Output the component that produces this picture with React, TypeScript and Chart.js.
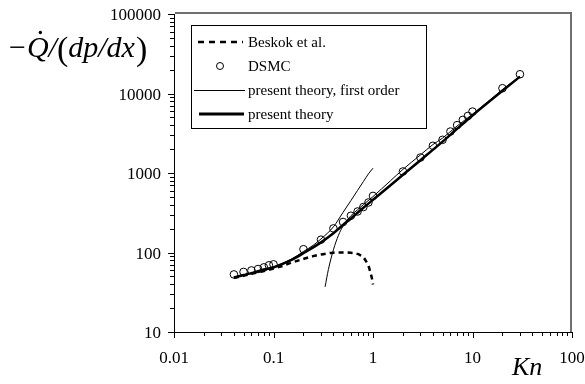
import React, { useEffect, useRef } from "react";
import { Chart, registerables } from "chart.js";

Chart.register(...registerables);

// ---- data ----
const dsmcKn = [0.04, 0.05, 0.06, 0.07, 0.08, 0.09, 0.1, 0.2, 0.3, 0.4, 0.5, 0.6, 0.7, 0.8, 0.9, 1, 2, 3, 4, 5, 6, 7, 8, 9, 10, 20, 30];
const dsmcQ = [53, 57, 59.5, 62, 65, 69, 71, 110, 145, 201, 242, 290, 328, 373, 426, 515, 1045, 1566, 2200, 2614, 3324, 4000, 4660, 5230, 5925, 11650, 17470];

const presentKn = [0.04, 0.05, 0.06, 0.07, 0.08, 0.1, 0.15, 0.2, 0.3, 0.4, 0.5, 0.6, 0.8, 1, 1.5, 2, 3, 5, 7, 10, 20, 30];
const presentQ = [48.5, 52, 55, 58, 61, 65, 80, 98, 134, 175, 222, 268, 365, 460, 700, 950, 1450, 2480, 3600, 5300, 10800, 16300];

const firstLowKn = [0.04, 0.06, 0.08, 0.1, 0.15, 0.2, 0.25, 0.3, 0.4, 0.5, 0.6, 0.7, 0.8, 0.9, 1];
const firstLowQ = [48.5, 55, 61, 66, 82, 103, 123, 148, 210, 320, 450, 605, 780, 975, 1150];

const firstHighKn = [0.33, 0.356, 0.4, 0.45, 0.5, 0.6, 0.7, 0.8, 1, 1.5, 2, 3, 4, 5, 7, 10, 20, 30];
const firstHighQ = [37, 61, 108, 165, 215, 290, 345, 400, 505, 800, 1110, 1690, 2280, 2750, 3900, 5500, 11200, 16500];

const beskokKn = [0.04, 0.05, 0.06, 0.08, 0.1, 0.12, 0.15, 0.2, 0.25, 0.3, 0.35, 0.4, 0.5, 0.6, 0.7, 0.75, 0.8, 0.85, 0.9, 0.95, 0.98, 1];
const beskokQ = [48, 51, 54, 58.5, 63, 67, 74, 83, 90, 94.5, 97.5, 99.5, 100, 99, 96, 92, 87, 78, 68, 54, 46, 39.5];

const xMajorTicks = [0.01, 0.1, 1, 10, 100];
const xTickLabels = ["0.01", "0.1", "1", "10", "100"];
const yMajorTicks = [10, 100, 1000, 10000, 100000];
const yTickLabels = ["10", "100", "1000", "10000", "100000"];

const legendLabels = ["Beskok et al.", "DSMC", "present theory, first order", "present theory"];
const xTitle = "Kn";

const SERIF = '"Liberation Serif", "Times New Roman", "DejaVu Serif", serif';

function withMinors(majors: number[]) {
  const out: { value: number; major: boolean }[] = [];
  for (let i = 0; i < majors.length; i++) {
    out.push({ value: majors[i], major: true });
    if (i < majors.length - 1) {
      for (let k = 2; k <= 9; k++) out.push({ value: +(majors[i] * k).toPrecision(6), major: false });
    }
  }
  return out;
}

function pts(xs: number[], ys: number[]) {
  return xs.map((x, i) => ({ x, y: ys[i] }));
}

const decorPlugin = {
  id: "decor",
  afterDraw(chart: any) {
    const ctx = chart.ctx as CanvasRenderingContext2D;
    const ca = chart.chartArea;
    const xs = chart.scales.x;
    const ys = chart.scales.y;
    ctx.save();

    // plot-area frame: top and right edges, gray
    ctx.strokeStyle = "#707070";
    ctx.lineWidth = 2;
    ctx.setLineDash([]);
    ctx.beginPath();
    ctx.moveTo(ca.left + 1, 13);
    ctx.lineTo(571, 13);
    ctx.lineTo(571, ca.bottom);
    ctx.stroke();

    // tick marks (outside) and labels
    ctx.strokeStyle = "#000";
    ctx.fillStyle = "#000";
    ctx.lineWidth = 1;
    ctx.font = `17px ${SERIF}`;
    for (const t of withMinors(xMajorTicks)) {
      const px = Math.round(xs.getPixelForValue(t.value)) + 0.5;
      ctx.beginPath();
      ctx.moveTo(px, ca.bottom);
      ctx.lineTo(px, ca.bottom + (t.major ? 6 : 4));
      ctx.stroke();
    }
    ctx.textAlign = "center";
    ctx.textBaseline = "alphabetic";
    xMajorTicks.forEach((v, i) => {
      ctx.fillText(xTickLabels[i], xs.getPixelForValue(v), ca.bottom + 31);
    });
    for (const t of withMinors(yMajorTicks)) {
      const py = Math.round(ys.getPixelForValue(t.value)) + 0.5;
      ctx.beginPath();
      ctx.moveTo(ca.left, py);
      ctx.lineTo(ca.left - (t.major ? 6 : 4), py);
      ctx.stroke();
    }
    ctx.textAlign = "right";
    ctx.textBaseline = "alphabetic";
    yMajorTicks.forEach((v, i) => {
      ctx.fillText(yTickLabels[i], ca.left - 13, ys.getPixelForValue(v) + 6);
    });

    // y title: −Q̇/(dp/dx)
    ctx.textAlign = "left";
    let x = 9;
    const base = 57;
    ctx.font = `30px ${SERIF}`;
    ctx.fillText("\u2212", x, base);
    x += ctx.measureText("\u2212").width + 1;
    ctx.font = `italic 30px ${SERIF}`;
    ctx.fillText("Q", x, base);
    const qw = ctx.measureText("Q").width;
    ctx.beginPath();
    ctx.arc(x + qw * 0.62, base - 24.5, 1.7, 0, Math.PI * 2);
    ctx.fill();
    x += qw;
    ctx.fillText("/", x, base);
    x += ctx.measureText("/").width;
    ctx.font = `34px ${SERIF}`;
    ctx.fillText("(", x, base + 3);
    x += ctx.measureText("(").width;
    ctx.font = `italic 30px ${SERIF}`;
    ctx.fillText("dp/dx", x, base);
    x += ctx.measureText("dp/dx").width + 1;
    ctx.font = `34px ${SERIF}`;
    ctx.fillText(")", x, base + 3);

    // x title
    ctx.font = `italic 26px ${SERIF}`;
    ctx.fillText(xTitle, 512, 375);

    // legend
    const lx = ca.left + 17;
    const ly = ca.top + 11;
    const lw = 235;
    const lh = 103;
    ctx.fillStyle = "#fff";
    ctx.fillRect(lx, ly, lw, lh);
    ctx.strokeStyle = "#000";
    ctx.lineWidth = 1;
    ctx.strokeRect(lx + 0.5, ly + 0.5, lw, lh);
    const rows = [ly + 17, ly + 41, ly + 65, ly + 89];
    const symL = lx + 6;
    const symR = lx + 52;
    ctx.lineWidth = 2.5;
    ctx.setLineDash([6, 5]);
    ctx.beginPath();
    ctx.moveTo(symL + 1, rows[0]);
    ctx.lineTo(symR, rows[0]);
    ctx.stroke();
    ctx.setLineDash([]);
    ctx.lineWidth = 1;
    ctx.beginPath();
    ctx.arc((symL + symR) / 2, rows[1], 3.5, 0, Math.PI * 2);
    ctx.stroke();
    ctx.beginPath();
    ctx.moveTo(symL - 3, rows[2] + 0.5);
    ctx.lineTo(symR + 2, rows[2] + 0.5);
    ctx.stroke();
    ctx.lineWidth = 3;
    ctx.beginPath();
    ctx.moveTo(symL + 2, rows[3]);
    ctx.lineTo(symR + 1, rows[3]);
    ctx.stroke();
    ctx.fillStyle = "#000";
    ctx.font = `15px ${SERIF}`;
    ctx.textBaseline = "middle";
    for (let i = 0; i < 4; i++) ctx.fillText(legendLabels[i], lx + 57, rows[i] + 1);
    ctx.restore();
  },
};

export default function App() {
  const ref = useRef<HTMLCanvasElement | null>(null);
  useEffect(() => {
    document.body.style.margin = "0";
    if (!ref.current) return;
    const chart = new Chart(ref.current, {
      type: "line",
      data: {
        datasets: [
          {
            label: "Beskok et al.",
            data: pts(beskokKn, beskokQ),
            borderColor: "#000",
            borderWidth: 2.5,
            borderDash: [5, 4],
            pointRadius: 0,
            fill: false,
            cubicInterpolationMode: "monotone",
          },
          {
            label: "present theory, first order (low Kn)",
            data: pts(firstLowKn, firstLowQ),
            borderColor: "#000",
            borderWidth: 1,
            pointRadius: 0,
            fill: false,
            cubicInterpolationMode: "monotone",
          },
          {
            label: "present theory, first order (high Kn)",
            data: pts(firstHighKn, firstHighQ),
            borderColor: "#000",
            borderWidth: 1,
            pointRadius: 0,
            fill: false,
            cubicInterpolationMode: "monotone",
          },
          {
            label: "present theory",
            data: pts(presentKn, presentQ),
            borderColor: "#000",
            borderWidth: 2.5,
            pointRadius: 0,
            fill: false,
            cubicInterpolationMode: "monotone",
          },
          {
            label: "DSMC",
            data: pts(dsmcKn, dsmcQ),
            showLine: false,
            pointStyle: "circle",
            pointRadius: 3.8,
            pointBorderWidth: 1,
            pointBorderColor: "#000",
            pointBackgroundColor: "rgba(255,255,255,0)",
          },
        ],
      },
      options: {
        animation: false,
        responsive: false,
        devicePixelRatio: 1,
        layout: { padding: { top: 14, right: 13, left: 0, bottom: 0 } },
        plugins: { legend: { display: false }, tooltip: { enabled: false } },
        scales: {
          x: {
            type: "logarithmic",
            min: 0.01,
            max: 100,
            afterFit: (s: any) => {
              s.height = 52;
            },
            grid: { display: false },
            border: { display: true, color: "#000", width: 1 },
            ticks: { display: false },
          },
          y: {
            type: "logarithmic",
            min: 10,
            max: 100000,
            afterFit: (s: any) => {
              s.width = 174;
            },
            grid: { display: false },
            border: { display: true, color: "#000", width: 1 },
            ticks: { display: false },
          },
        },
      },
      plugins: [decorPlugin],
    });
    return () => chart.destroy();
  }, []);
  return (
    <div style={{ width: 585, height: 384, position: "relative", background: "#fff" }}>
      <canvas ref={ref} width={585} height={384} style={{ display: "block" }} />
    </div>
  );
}
